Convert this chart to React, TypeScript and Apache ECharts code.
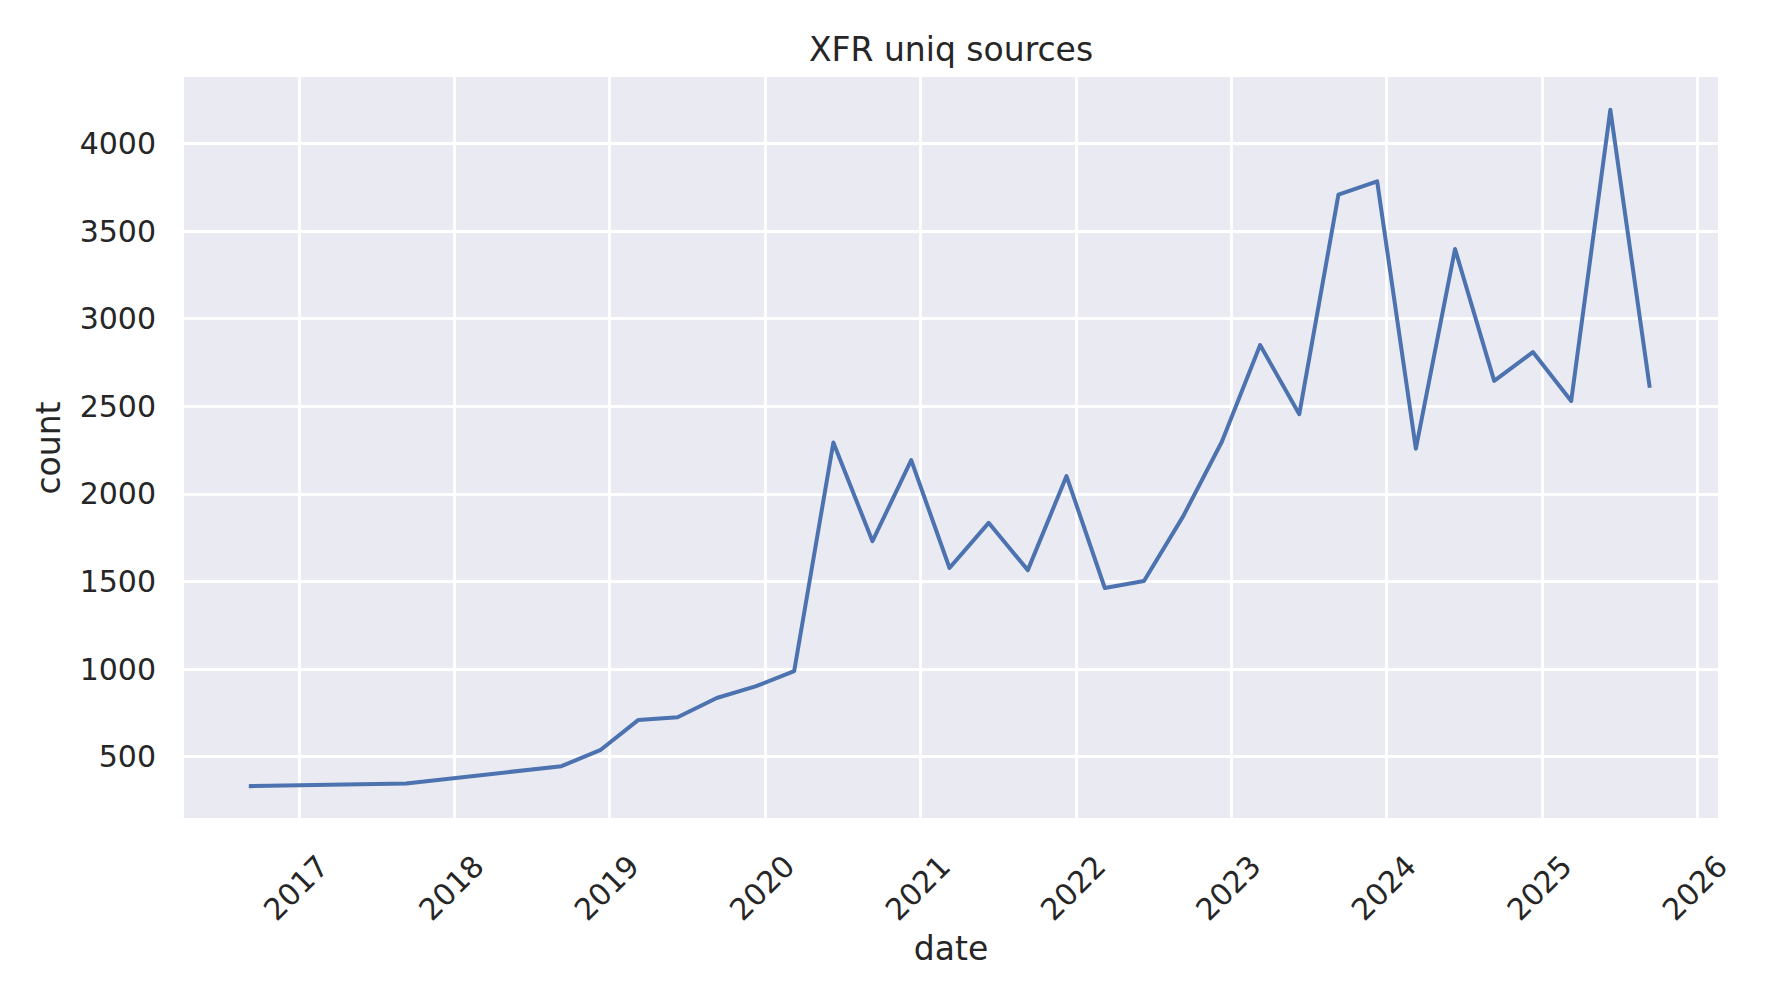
import React, { useEffect, useRef } from 'react';
import * as echarts from 'echarts';

// ---- data ----
const dates: string[] = [
  '2016-09-10', '2017-09-10', '2018-09-10', '2018-12-10',
  '2019-03-10', '2019-06-10', '2019-09-10', '2019-12-10',
  '2020-03-10', '2020-06-10', '2020-09-10', '2020-12-10',
  '2021-03-10', '2021-06-10', '2021-09-10', '2021-12-10',
  '2022-03-10', '2022-06-10', '2022-09-10', '2022-12-10',
  '2023-03-10', '2023-06-10', '2023-09-10', '2023-12-10',
  '2024-03-10', '2024-06-10', '2024-09-10', '2024-12-10',
  '2025-03-10', '2025-06-10', '2025-09-10',
];
const counts: number[] = [
  332, 347, 446, 537,
  710, 725, 835, 901,
  989, 2293, 1730, 2193,
  1577, 1835, 1565, 2102,
  1463, 1503, 1872, 2298,
  2850, 2455, 3708, 3784,
  2258, 3398, 2645, 2810,
  2531, 4193, 2617,
];
const yearTicks: number[] = [2017, 2018, 2019, 2020, 2021, 2022, 2023, 2024, 2025, 2026];
const countTicks: number[] = [500, 1000, 1500, 2000, 2500, 3000, 3500, 4000];
const xRange: string[] = ['2016-04-06', '2026-02-18'];
const yRange: number[] = [150, 4380];

const titleText = 'XFR uniq sources';
const xName = 'date';
const yName = 'count';

const FONT = '"DejaVu Sans", "Liberation Sans", sans-serif';
const TEXT = '#262626';

export default function App() {
  const ref = useRef<HTMLDivElement>(null);

  useEffect(() => {
    if (!ref.current) return;
    const chart = echarts.init(ref.current, undefined, { renderer: 'svg' });
    const seriesData = dates.map((d, i) => [Date.parse(d), counts[i]]);
    const yearValues = yearTicks.map((y) => Date.UTC(y, 0, 1));

    chart.setOption({
      animation: false,
      backgroundColor: '#ffffff',
      textStyle: { fontFamily: FONT, color: TEXT },
      grid: {
        left: 184,
        right: 52,
        top: 77,
        bottom: 182,
        show: true,
        backgroundColor: '#EAEAF2',
        borderWidth: 0,
        containLabel: false,
        outerBoundsMode: 'none',
      },
      xAxis: {
        type: 'value',
        min: Date.parse(xRange[0]),
        max: Date.parse(xRange[1]),
        axisLine: { show: false },
        axisTick: { show: false, customValues: yearValues },
        axisLabel: {
          customValues: yearValues,
          formatter: (v: number) => String(new Date(v + 43200000).getUTCFullYear()),
          rotate: 45,
          align: 'center',
          verticalAlign: 'middle',
          margin: 67,
          padding: [0, 8, 8, 0],
          fontSize: 30,
          fontFamily: FONT,
          color: TEXT,
          showMinLabel: true,
          showMaxLabel: true,
          hideOverlap: false,
        },
        splitLine: { show: true, lineStyle: { color: '#ffffff', width: 2.8 } },
      },
      yAxis: {
        type: 'value',
        min: yRange[0],
        max: yRange[1],
        axisLine: { show: false },
        axisTick: { show: false, customValues: countTicks },
        axisLabel: {
          customValues: countTicks,
          formatter: (v: number) => String(v),
          margin: 28,
          fontSize: 30,
          fontFamily: FONT,
          color: TEXT,
          showMinLabel: true,
          showMaxLabel: true,
        },
        splitLine: { show: true, lineStyle: { color: '#ffffff', width: 2.8 } },
      },
      series: [
        {
          type: 'line',
          data: seriesData,
          showSymbol: false,
          symbol: 'none',
          lineStyle: { color: '#4C72B0', width: 4, join: 'round', cap: 'square' },
          itemStyle: { color: '#4C72B0' },
        },
      ],
      graphic: [
        {
          type: 'text',
          x: 951,
          y: 49.5,
          style: {
            text: titleText,
            fill: TEXT,
            font: `33px ${FONT}`,
            textAlign: 'center',
            textVerticalAlign: 'middle',
          },
        },
        {
          type: 'text',
          x: 951,
          y: 948,
          style: {
            text: xName,
            fill: TEXT,
            font: `33px ${FONT}`,
            textAlign: 'center',
            textVerticalAlign: 'middle',
          },
        },
        {
          type: 'text',
          x: 48.6,
          y: 448,
          rotation: Math.PI / 2,
          style: {
            text: yName,
            fill: TEXT,
            font: `33px ${FONT}`,
            textAlign: 'center',
            textVerticalAlign: 'middle',
          },
        },
      ],
    });

    return () => chart.dispose();
  }, []);

  return (
    <div
      style={{ position: 'fixed', left: 0, top: 0, width: 1770, height: 1000, background: '#ffffff' }}
    >
      <div ref={ref} style={{ width: 1770, height: 1000 }} />
    </div>
  );
}
